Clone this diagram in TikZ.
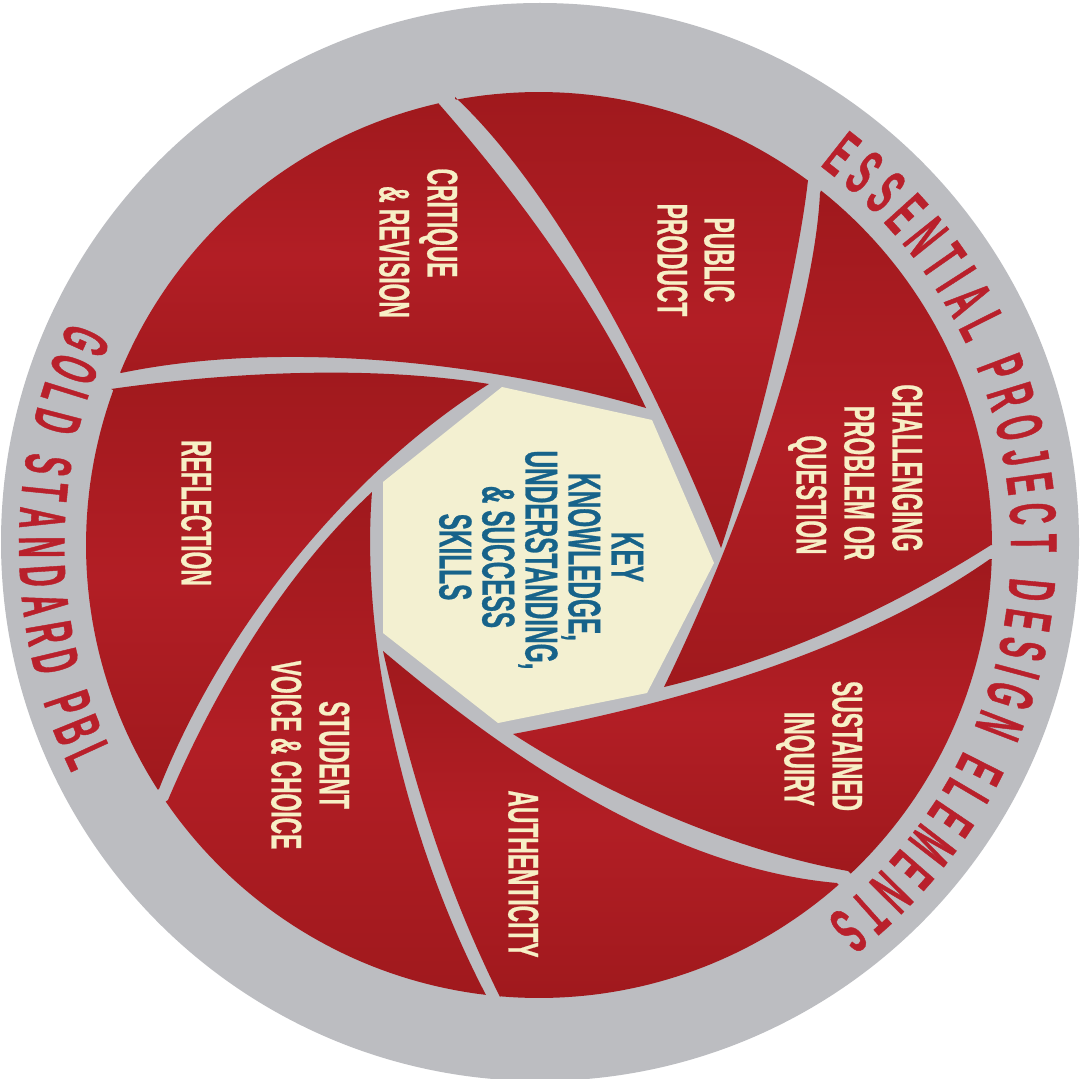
\documentclass[tikz,border=0pt]{standalone}
\usepackage{fontspec}
\usetikzlibrary{decorations.text}
\newfontfamily\cond{Liberation Sans Bold}[FakeStretch=0.53,FakeBold=0.6]
\newfontfamily\condring{Liberation Sans Bold}[FakeStretch=0.45,FakeBold=0.6]
\definecolor{ringgray}{HTML}{BCBDC1}
\definecolor{banddark}{HTML}{A0191D}
\definecolor{bandlight}{HTML}{B21E25}
\definecolor{cream}{HTML}{F7EFC6}
\definecolor{hepta}{HTML}{F3F0D1}
\definecolor{keyblue}{HTML}{17638A}
\definecolor{ringred}{HTML}{B9202B}
\newcommand{\labfont}{\cond\fontsize{43}{43}\selectfont}
\newcommand{\keyfont}{\cond\fontsize{46}{46}\selectfont}
\newcommand{\ringfont}{\condring\fontsize{66}{66}\selectfont\color{ringred}}
\tikzset{
  blade/.style={shading=axis,top color=banddark,bottom color=banddark,middle color=bandlight},
  lab/.style={rotate=-90,inner sep=0pt,text height=31pt,text depth=0pt,font=\labfont,text=cream},
  keylab/.style={rotate=-90,inner sep=0pt,text height=33pt,text depth=0pt,font=\keyfont,text=keyblue}
}
\newcommand{\rimarc}[2]{plot[domain=#1:#2,samples=40] ({539+453*cos(\x)},{545+453*sin(\x)})}
\begin{document}
\begin{tikzpicture}[x=1pt,y=-1pt]
\useasboundingbox (0,0) rectangle (1083,1078);
\fill[white] (0,0) rectangle (1083,1078);
\fill[ringgray] (540,542) circle[radius=539pt];
% heptagon
\fill[hepta] (502,387) -- (652,420) -- (714,563) -- (647,693) -- (498,723) -- (383,633) -- (383,482) -- cycle;
% Public product
\path[blade] \rimarc{259.4}{306.4} -- (808,180) .. controls (798,270) and (757,440) .. (721,548) .. controls (660,395) and (560,195) .. (455,97) -- cycle;
% Challenging
\path[blade] \rimarc{308.5}{360} -- (991,545) .. controls (880,615) and (775,660) .. (664,687) .. controls (755,500) and (815,300) .. (820,193) -- cycle;
% Sustained
\path[blade] \rimarc{1.8}{46.5} -- (848,871) .. controls (740,852) and (610,797) .. (513,734) .. controls (680,703) and (860,650) .. (990,559) -- cycle;
% Authenticity
\path[blade] \rimarc{48.6}{94.9} -- (500,997) .. controls (442,880) and (410,770) .. (383,651) .. controls (500,750) and (665,868) .. (837,883) -- cycle;
% Student
\path[blade] \rimarc{96.7}{145.5} -- (168,800) .. controls (218,682) and (288,570) .. (372,492) .. controls (360,640) and (405,840) .. (486,995) -- cycle;
% Reflection
\path[blade] \rimarc{147.3}{200} -- (111,389) .. controls (230,372) and (370,365) .. (489,384) .. controls (360,465) and (228,615) .. (159,789) -- cycle;
% Critique
\path[blade] \rimarc{202.4}{257.2} -- (439,104) .. controls (510,185) and (590,290) .. (646,408) .. controls (500,365) and (290,338) .. (121,373) -- cycle;
% ring texts
\path[decorate,decoration={text along path,text align=fit to path,text={|\ringfont|ESSENTIAL PROJECT DESIGN ELEMENTS}}]
  plot[domain=-53.5:52.5,samples=90] ({539+472*cos(\x)},{545+472*sin(\x)});
\path[decorate,decoration={text along path,text align=fit to path,text={|\ringfont|GOLD STANDARD PBL}}]
  plot[domain=205.5:154,samples=60] ({539+520*cos(\x)},{545+520*sin(\x)});
% labels
\node[lab] (l1) at (720,260) {PUBLIC};
\node[lab] (l2) at (673,260) {PRODUCT};
\node[lab] (l3) at (443,223) {CRITIQUE};
\node[lab] (l4) at (395,252) {\& REVISION};
\node[lab] (l5) at (908,468) {CHALLENGING};
\node[lab] (l6) at (860,483) {PROBLEM OR};
\node[lab] (l7) at (812,495) {QUESTION};
\node[lab] (l8) at (848,746) {SUSTAINED};
\node[lab] (l9) at (800,759) {INQUIRY};
\node[lab] (l10) at (524,874) {AUTHENTICITY};
\node[lab] (l11) at (335,755) {STUDENT};
\node[lab] (l12) at (287,755) {VOICE \& CHOICE};
\node[lab] (l13) at (197,513) {REFLECTION};
\node[keylab] (k1) at (628,557) {KEY};
\node[keylab] (k2) at (585,557) {KNOWLEDGE,};
\node[keylab] (k3) at (542,560) {UNDERSTANDING,};
\node[keylab] (k4) at (499,557) {\& SUCCESS};
\node[keylab] (k5) at (456,557) {SKILLS};
\end{tikzpicture}
\end{document}
